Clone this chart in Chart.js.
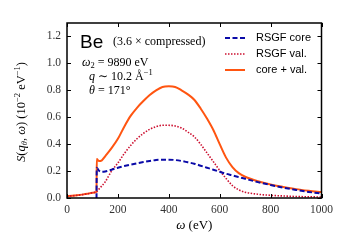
<!DOCTYPE html>
<html>
<head>
<meta charset="utf-8">
<script src="https://cdn.jsdelivr.net/npm/chart.js@4/dist/chart.umd.min.js"></script>
<style>
  html,body{margin:0;padding:0;background:#fff;}
  canvas{display:block;}
</style>
</head>
<body>
<canvas id="c" width="338" height="243"></canvas>
<script>
// Be, 3.6x compressed — S(q,w) RSGF core / valence / total
const energy   = [0,20,40,60,80,100,116,117,125,137,150,175,200,225,250,275,300,325,350,375,400,425,450,475,500,525,550,575,600,625,650,675,700,750,800,850,900,950,1000];
const coreVals = [null,null,null,null,null,null,0,0.225,0.205,0.195,0.197,0.21,0.225,0.237,0.248,0.258,0.267,0.275,0.282,0.285,0.285,0.282,0.275,0.265,0.255,0.24,0.225,0.21,0.195,0.18,0.168,0.155,0.143,0.118,0.097,0.077,0.06,0.045,0.033];
const valVals  = [0.013,0.016,0.02,0.025,0.031,0.039,0.047,0.048,0.065,0.09,0.12,0.20,0.26,0.33,0.39,0.44,0.48,0.51,0.53,0.54,0.54,0.535,0.52,0.49,0.455,0.40,0.335,0.27,0.205,0.145,0.092,0.06,0.043,0.028,0.02,0.015,0.011,0.009,0.007];
const totVals  = [0.013,0.016,0.02,0.025,0.031,0.039,0.047,0.29,0.275,0.28,0.31,0.37,0.44,0.53,0.61,0.67,0.72,0.765,0.80,0.825,0.83,0.825,0.80,0.77,0.73,0.665,0.59,0.505,0.40,0.30,0.23,0.185,0.158,0.124,0.10,0.082,0.066,0.054,0.044];
const seriesNames = ["RSGF core","RSGF val.","core + val."];
const xTicks = [0,200,400,600,800,1000];
const yTicks = [0,0.2,0.4,0.6,0.8,1.0,1.2];

const pts = v => energy.map((e,i)=>({x:e,y:v[i]}));
const SERIF = "'Liberation Serif', 'DejaVu Serif', serif";
const SANS  = "'Liberation Sans', Arial, sans-serif";

function drawPieces(ctx, pieces, x, y, align){
  let w = 0;
  pieces.forEach(p=>{ ctx.font=p.f; w += ctx.measureText(p.t).width; });
  let cx = align==="center" ? x - w/2 : x;
  ctx.textAlign="left"; ctx.textBaseline="alphabetic";
  pieces.forEach(p=>{ ctx.font=p.f; ctx.fillText(p.t, cx, y+(p.dy||0)); cx += ctx.measureText(p.t).width; });
}

const decor = {
  id:"decor",
  afterDraw(chart){
    const {ctx, chartArea:a, scales} = chart;
    const xs = scales.x, ys = scales.y;
    ctx.save();
    ctx.strokeStyle="#000"; ctx.fillStyle="#000";
    // ticks pointing in
    ctx.lineWidth=1;
    ctx.beginPath();
    xTicks.forEach(t=>{ const px=Math.round(xs.getPixelForValue(t))+0.5;
      ctx.moveTo(px,a.bottom); ctx.lineTo(px,a.bottom-4);
      ctx.moveTo(px,a.top); ctx.lineTo(px,a.top+4); });
    yTicks.forEach(t=>{ const py=Math.round(ys.getPixelForValue(t))+0.5;
      ctx.moveTo(a.left,py); ctx.lineTo(a.left+4,py);
      ctx.moveTo(a.right,py); ctx.lineTo(a.right-4,py); });
    ctx.stroke();
    // frame
    ctx.lineWidth=1.5;
    ctx.strokeRect(a.left,a.top,a.right-a.left,a.bottom-a.top);

    // x title
    drawPieces(ctx,[{t:"ω",f:"italic 13px "+SERIF},{t:" (eV)",f:"13px "+SERIF}],(a.left+a.right)/2,229,"center");
    // y title
    ctx.save();
    ctx.translate(25,112);
    ctx.rotate(-Math.PI/2);
    drawPieces(ctx,[
      {t:"S",f:"italic 12.5px "+SERIF},{t:"(",f:"12.5px "+SERIF},{t:"q",f:"italic 12.5px "+SERIF},
      {t:"θ",f:"italic 8.5px "+SERIF,dy:2},{t:", ",f:"12.5px "+SERIF},{t:"ω",f:"italic 12.5px "+SERIF},
      {t:") (10",f:"12.5px "+SERIF},{t:"−2",f:"8.5px "+SERIF,dy:-5},{t:" eV",f:"12.5px "+SERIF},
      {t:"−1",f:"8.5px "+SERIF,dy:-5},{t:")",f:"12.5px "+SERIF}],0,0,"center");
    ctx.restore();

    // annotations
    ctx.font="19px "+SANS; ctx.textAlign="left";
    ctx.fillText("Be",80,48);
    ctx.font="12px "+SERIF;
    ctx.fillText("(3.6 × compressed)",113,45);
    drawPieces(ctx,[{t:"ω",f:"italic 12px "+SERIF},{t:"2",f:"8.5px "+SERIF,dy:2},{t:" = 9890 eV",f:"12px "+SERIF}],82,66,"left");
    drawPieces(ctx,[{t:"q",f:"italic 12px "+SERIF},{t:" ∼ 10.2 Å",f:"12px "+SERIF},{t:"−1",f:"8.5px "+SERIF,dy:-5}],89,80,"left");
    drawPieces(ctx,[{t:"θ",f:"italic 12px "+SERIF},{t:" = 171°",f:"12px "+SERIF}],89,94,"left");

    // legend
    const rows=[38,54,70];
    chart.data.datasets.forEach((ds,i)=>{
      ctx.save();
      ctx.strokeStyle=ds.borderColor; ctx.lineWidth=ds.borderWidth;
      ctx.setLineDash(ds.borderDash||[]);
      ctx.beginPath(); ctx.moveTo(225,rows[i]); ctx.lineTo(245,rows[i]); ctx.stroke();
      ctx.restore();
      ctx.font="11px "+SANS; ctx.textBaseline="middle"; ctx.fillStyle="#000";
      ctx.fillText(ds.label,256,rows[i]);
    });
    ctx.restore();
  }
};

new Chart(document.getElementById("c"),{
  type:"line",
  data:{datasets:[
    {label:seriesNames[0],data:pts(coreVals),borderColor:"#0a0aa8",borderWidth:2,borderDash:[5,2.5],pointRadius:0,cubicInterpolationMode:"monotone",fill:false,spanGaps:false},
    {label:seriesNames[1],data:pts(valVals),borderColor:"#cc1030",borderWidth:1.6,borderDash:[1.5,1.5],pointRadius:0,cubicInterpolationMode:"monotone",fill:false},
    {label:seriesNames[2],data:pts(totVals),borderColor:"#ff5511",borderWidth:2,pointRadius:0,cubicInterpolationMode:"monotone",fill:false}
  ]},
  options:{
    responsive:false,animation:false,
    layout:{padding:{top:23,right:16,left:0,bottom:0}},
    plugins:{legend:{display:false},tooltip:{enabled:false}},
    scales:{
      x:{type:"linear",min:0,max:1000,
        afterBuildTicks:s=>{s.ticks=xTicks.map(v=>({value:v}));},
        afterFit:s=>{s.height=45;},
        grid:{display:false,drawTicks:false},border:{display:false},
        ticks:{padding:5,color:"#333",font:{family:SERIF,size:11.5},callback:v=>String(v)}},
      y:{min:0,max:1.3,
        afterBuildTicks:s=>{s.ticks=yTicks.map(v=>({value:v}));},
        afterFit:s=>{s.width=67;},
        grid:{display:false,drawTicks:false},border:{display:false},
        ticks:{padding:6,color:"#333",font:{family:SERIF,size:11.5},callback:v=>Number(v).toFixed(1)}}
    }
  },
  plugins:[decor]
});
</script>
</body>
</html>
